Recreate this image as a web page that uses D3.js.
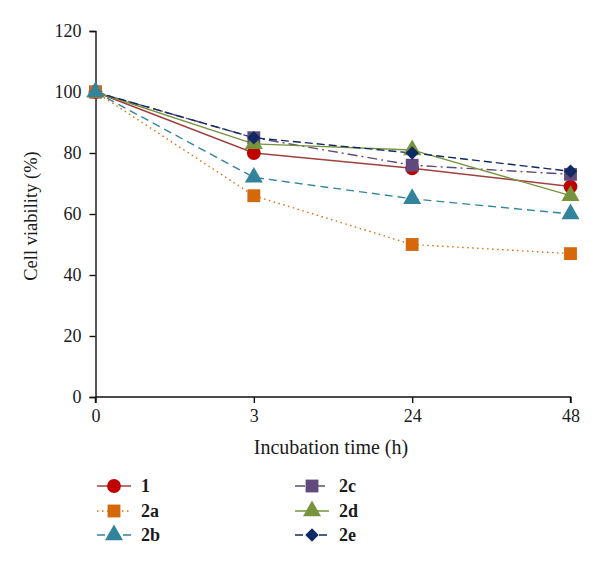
<!DOCTYPE html>
<html><head><meta charset="utf-8">
<script src="https://cdn.jsdelivr.net/npm/d3@7/dist/d3.min.js"></script>
<style>body{margin:0;background:#fff}svg{display:block}text{font-family:"Liberation Serif","DejaVu Serif",serif;fill:#1a1a1a}</style>
</head><body><svg id="c" width="600" height="568"></svg>
<script>
const categories = ["0", "3", "24", "48"];
const yTicks = [0, 20, 40, 60, 80, 100, 120];
const seriesNames = ["1", "2a", "2b", "2c", "2d", "2e"];
const s1  = [100, 80, 75, 69];
const s2a = [100, 66, 50, 47];
const s2b = [100, 72, 65, 60];
const s2c = [100, 85, 76, 73];
const s2d = [100, 83, 81, 66];
const s2e = [100, 85, 80, 74];
const values = [s1, s2a, s2b, s2c, s2d, s2e];
const markerOrder = [0, 3, 4, 5, 1, 2];

const styles = [
  {line:"#A0403F", fill:"#C00000", dash:null, shape:"circle"},
  {line:"#E36C09", fill:"#D4680A", dash:"1.5,3.5", shape:"square"},
  {line:"#31849B", fill:"#31849B", dash:"8,5", shape:"triangle"},
  {line:"#5F497A", fill:"#604A7B", dash:"10,4,2,4", shape:"square"},
  {line:"#77933C", fill:"#77933C", dash:null, shape:"triangle"},
  {line:"#0F2A63", fill:"#0F2A63", dash:"8,4", shape:"diamond"}
];

const svg = d3.select("#c");
const x = d3.scalePoint().domain(categories).range([95.5, 570.5]);
const y = d3.scaleLinear().domain([0, 120]).range([397, 31]);

const diamondType = {draw(ctx, size){ const r = Math.sqrt(size/2); ctx.moveTo(0,-r); ctx.lineTo(r,0); ctx.lineTo(0,r); ctx.lineTo(-r,0); ctx.closePath(); }};
const sym = {
  circle: d3.symbol().type(d3.symbolCircle).size(150),
  square: d3.symbol().type(d3.symbolSquare).size(165),
  triangle: d3.symbol().type(d3.symbolTriangle).size(140),
  diamond: d3.symbol().type(diamondType).size(90)
};

// axes
const ya = svg.append("g").attr("transform","translate(95.5,0)")
  .call(d3.axisLeft(y).tickValues(yTicks).tickSize(6).tickPadding(8));
const xa = svg.append("g").attr("transform","translate(0,397)")
  .call(d3.axisBottom(x).tickSize(6).tickPadding(6));
[ya, xa].forEach(a => {
  a.select(".domain").attr("stroke","#111").attr("stroke-width",1.4);
  a.selectAll(".tick line").attr("stroke","#111").attr("stroke-width",1.4);
  a.selectAll(".tick text").attr("font-size",18).attr("fill","#1a1a1a")
   .attr("font-family","'Liberation Serif','DejaVu Serif',serif");
});
ya.select(".domain").attr("d","M-6,397.5H0.5V31.5H-6");
xa.select(".domain").attr("d","M95.5,0V6M95.5,0H570.5V6");

svg.append("text").attr("x",331).attr("y",454).attr("text-anchor","middle")
  .attr("font-size",20).text("Incubation time (h)");
svg.append("text").attr("transform","translate(37,216) rotate(-90)")
  .attr("text-anchor","middle").attr("font-size",18.5).text("Cell viability (%)");

const line = d3.line().x((d,i)=>x(categories[i])).y(d=>y(d));

values.forEach((vals, k) => {
  const st = styles[k];
  svg.append("path").datum(vals).attr("d", line).attr("fill","none")
    .attr("stroke", st.line).attr("stroke-width", 1.4)
    .attr("stroke-dasharray", st.dash);
});
markerOrder.forEach(k => {
  const st = styles[k];
  svg.append("g").selectAll("path").data(values[k]).join("path")
    .attr("transform",(d,i)=>`translate(${x(categories[i])},${y(d)})`)
    .attr("d", sym[st.shape]()).attr("fill", st.fill);
});

// legend
const legPos = [[97,486],[97,511],[97,535],[295,486],[295,511],[295,535]];
seriesNames.forEach((name, k) => {
  const st = styles[k];
  const [lx, ly] = legPos[k];
  const g = svg.append("g");
  g.append("line").attr("x1",lx).attr("x2",lx+34).attr("y1",ly).attr("y2",ly)
    .attr("stroke",st.line).attr("stroke-width",1.4).attr("stroke-dasharray",st.dash);
  g.append("path").attr("transform",`translate(${lx+17},${ly})`)
    .attr("d", sym[st.shape]()).attr("fill", st.fill);
  g.append("text").attr("x",lx+44).attr("y",ly+6).attr("font-size",18)
    .attr("font-weight","bold").text(name);
});
</script></body></html>
